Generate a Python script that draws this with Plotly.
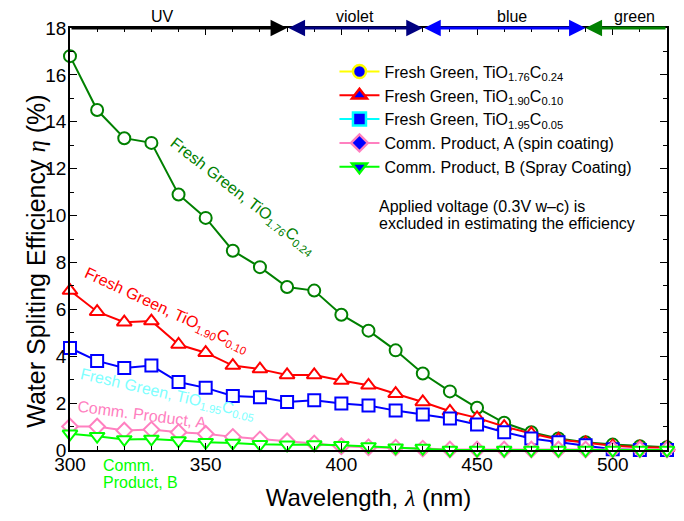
import plotly.graph_objects as go

# ---------------- data ----------------
wavelength = list(range(300, 521, 10))

tio176 = [16.8, 14.5, 13.3, 13.1, 10.9, 9.9, 8.5, 7.8, 6.95, 6.8, 5.77, 5.09, 4.25, 3.26,
          2.5, 1.8, 1.16, 0.76, 0.49, 0.33, 0.23, 0.16, 0.12]
tio190 = [6.8, 5.9, 5.45, 5.5, 4.5, 4.15, 3.6, 3.45, 3.2, 3.2, 2.96, 2.76, 2.4, 2.05,
          1.65, 1.37, 1.0, 0.7, 0.45, 0.3, 0.18, 0.12, 0.1]
tio195 = [4.35, 3.8, 3.5, 3.6, 2.9, 2.65, 2.3, 2.25, 2.05, 2.12, 1.98, 1.9, 1.68, 1.51,
          1.34, 1.09, 0.76, 0.49, 0.33, 0.2, 0.03, 0.0, 0.0]
comm_a = [1.0, 1.0, 0.83, 0.87, 0.76, 0.69, 0.56, 0.45, 0.37, 0.28, 0.16, 0.12, 0.1, 0.06,
          0.02, 0.02, 0.02, 0.02, 0.02, 0.02, 0.02, 0.02, 0.02]
comm_b = [0.69, 0.59, 0.45, 0.47, 0.4, 0.33, 0.3, 0.24, 0.22, 0.23, 0.2, 0.15, 0.1, 0.08,
          0.0, 0.0, 0.0, 0.0, 0.0, 0.0, 0.0, 0.0, 0.0]

legend_names = [
    "Fresh Green, TiO<sub>1.76</sub>C<sub>0.24</sub>",
    "Fresh Green, TiO<sub>1.90</sub>C<sub>0.10</sub>",
    "Fresh Green, TiO<sub>1.95</sub>C<sub>0.05</sub>",
    "Comm. Product, A (spin coating)",
    "Comm. Product, B (Spray Coating)",
]

x_ticks = [300, 350, 400, 450, 500]
y_ticks = [0, 2, 4, 6, 8, 10, 12, 14, 16, 18]

bands = ["UV", "violet", "blue", "green"]
band_edges = [300, 380, 430, 490, 520]
band_label_x = [334, 405, 463, 508]
band_colors = ["#000000", "#000080", "#0000ff", "#008000"]

# ---------------- styles ----------------
FONT = "Liberation Sans, Arial, sans-serif"
C_G, C_R, C_B, C_P, C_L = "#008000", "#ff0000", "#0000ff", "#ff80c0", "#00ff00"

series = [
    (tio176, C_G, "circle", 12),
    (tio190, C_R, "triangle-up", 13),
    (tio195, C_B, "square", 12),
    (comm_a, C_P, "diamond", 12),
    (comm_b, C_L, "triangle-down", 13),
]
legend_outline = ["#ffff00", C_R, "#00ffff", C_P, C_L]
legend_symbols = ["circle", "triangle-up", "square", "diamond", "triangle-down"]

fig = go.Figure()

for ys, col, sym, sz in series:
    fig.add_trace(go.Scatter(
        x=wavelength, y=ys, mode="lines+markers",
        line=dict(color=col, width=2),
        marker=dict(symbol=sym, size=sz, color="white", line=dict(color=col, width=2)),
        showlegend=False, cliponaxis=False,
    ))

for name, oc, sym in zip(legend_names, legend_outline, legend_symbols):
    fig.add_trace(go.Scatter(
        x=[None], y=[None], mode="lines+markers", name=name,
        line=dict(color=oc, width=2),
        marker=dict(symbol=sym, size=13, color="#0000ff", line=dict(color=oc, width=2.5)),
    ))

annotations = []

# spectral band arrows on top axis
for i, (lab, col) in enumerate(zip(bands, band_colors)):
    x0, x1 = band_edges[i], band_edges[i + 1]
    if lab == "UV":
        head, tail, side = x1, x0, "end"
    elif lab == "green":
        head, tail, side = x0, x1, "end"
    else:
        head, tail, side = x1, x0, "end+start"
    annotations.append(dict(
        x=head, y=18, ax=tail, ay=18, xref="x", yref="y", axref="x", ayref="y",
        text="", showarrow=True, arrowhead=2, arrowside=side, arrowsize=1.1,
        arrowwidth=3, arrowcolor=col, standoff=0, startstandoff=0,
    ))
    annotations.append(dict(
        x=band_label_x[i], y=1, xref="x", yref="paper", text=lab, showarrow=False,
        yanchor="bottom", yshift=1, font=dict(family=FONT, size=16, color="black"),
    ))

# curve labels
curve_labels = [
    ("Fresh Green, TiO<sub>1.76</sub>C<sub>0.24</sub>", 363.5, 10.8, 38, C_G),
    ("Fresh Green, TiO<sub>1.90</sub>C<sub>0.10</sub>", 335.5, 5.95, 25, C_R),
    ("Fresh Green, TiO<sub>1.95</sub>C<sub>0.05</sub>", 336.0, 2.35, 13, "#80ffff"),
    ("Comm. Product, A", 326.5, 1.5, 7.5, C_P),
]
for txt, x, y, ang, col in curve_labels:
    annotations.append(dict(
        x=x, y=y, xref="x", yref="y", text=txt, showarrow=False, textangle=ang,
        font=dict(family=FONT, size=16, color=col),
    ))

annotations.append(dict(x=311.5, y=-0.062, xref="x", yref="paper", text="Comm.",
                        showarrow=False, xanchor="left",
                        font=dict(family=FONT, size=16, color=C_L)))
annotations.append(dict(x=311.5, y=-0.101, xref="x", yref="paper", text="Product, B",
                        showarrow=False, xanchor="left",
                        font=dict(family=FONT, size=16, color=C_L)))

annotations.append(dict(x=413.3, y=10.38, xref="x", yref="y",
                        text="Applied voltage (0.3V w\u2013c) is",
                        showarrow=False, xanchor="left",
                        font=dict(family=FONT, size=16, color="black")))
annotations.append(dict(x=413.3, y=9.67, xref="x", yref="y",
                        text="excluded in estimating the efficiency",
                        showarrow=False, xanchor="left",
                        font=dict(family=FONT, size=16, color="black")))

# y axis title (placed as rotated text so it can sit slightly below centre like the reference)
annotations.append(dict(
    x=-0.083, y=8.05, xref="paper", yref="y", textangle=-90, showarrow=False,
    text="Water Spliting Efficiency <span style=\"font-family:'Liberation Serif'\"><i>\u03b7</i></span> (%)",
    font=dict(family=FONT, size=25, color="black"),
))

axis_common = dict(
    showline=True, linecolor="black", linewidth=1.5, mirror="ticks",
    ticks="inside", ticklen=7, tickwidth=1, tickcolor="black",
    showgrid=False, zeroline=False, automargin=False,
    tickfont=dict(family=FONT, size=19, color="black"),
)

# page body adds an 8px offset, so the figure is 8px smaller and margins shifted
fig.update_layout(
    width=676, height=513,
    margin=dict(l=62, r=17, t=20, b=71),
    plot_bgcolor="white", paper_bgcolor="white",
    font=dict(family=FONT, color="black"),
    xaxis=dict(
        range=[300, 520], tickvals=x_ticks, ticklabelstandoff=-4,
        minor=dict(dtick=10, ticks="inside", ticklen=4, tickcolor="black", showgrid=False),
        title=dict(text="Wavelength, <span style=\"font-family:'Liberation Serif'\"><i>\u03bb</i></span> (nm)",
                   font=dict(family=FONT, size=24), standoff=16),
        **axis_common,
    ),
    yaxis=dict(
        range=[0, 18], tickvals=y_ticks, ticklabelstandoff=-2,
        minor=dict(dtick=1, ticks="inside", ticklen=4, tickcolor="black", showgrid=False),
        **axis_common,
    ),
    legend=dict(x=0.443, y=0.937, xanchor="left", yanchor="top",
                bgcolor="rgba(0,0,0,0)", font=dict(family=FONT, size=16, color="black"),
                tracegroupgap=0, itemwidth=40),
    annotations=annotations,
)

fig.write_html("out.html")
